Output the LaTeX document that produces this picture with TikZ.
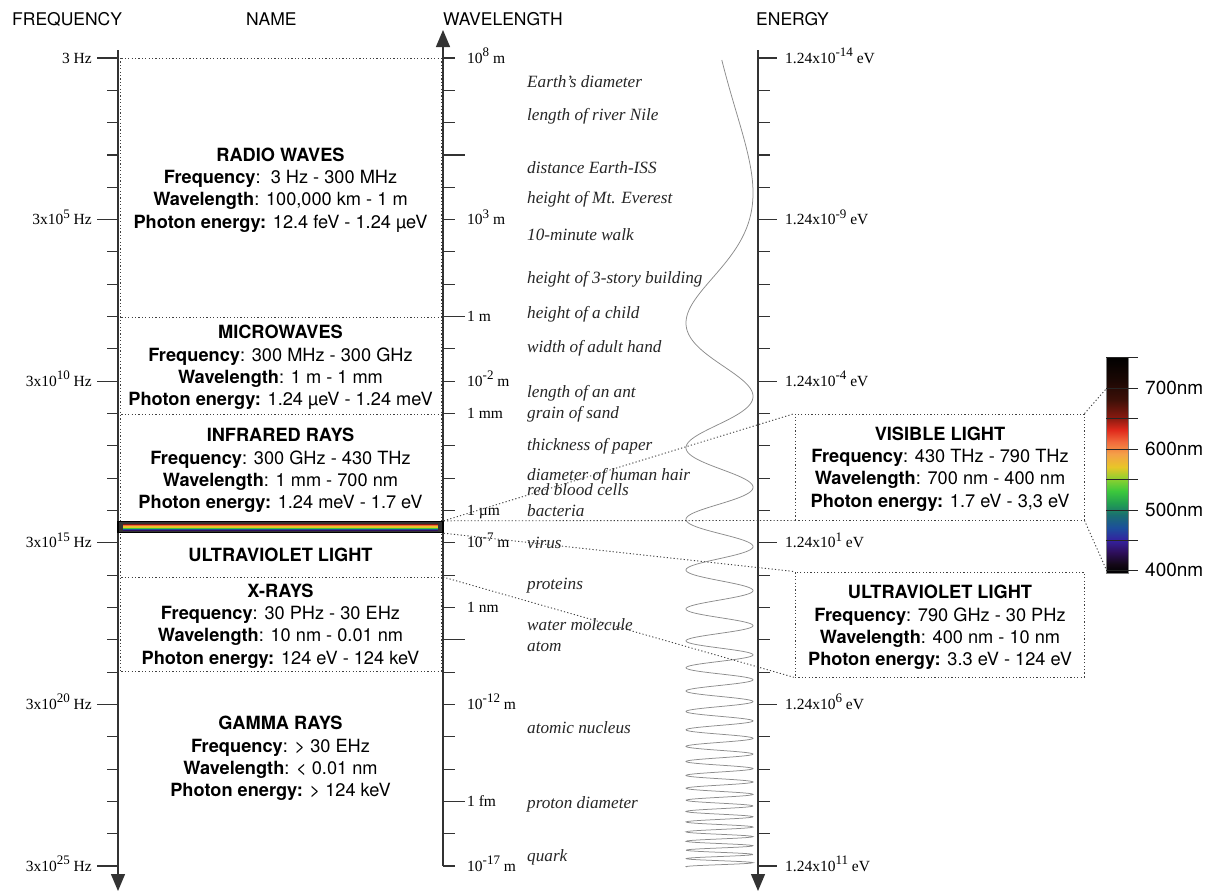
\documentclass[tikz,border=0pt]{standalone}
\usepackage{fontspec}
\setmainfont{Liberation Serif}
\newfontfamily\hv{TeX Gyre Heros}
\usetikzlibrary{arrows.meta}
\definecolor{axc}{HTML}{333333}
\definecolor{sA}{HTML}{140818}
\definecolor{sB}{HTML}{2E0F5C}
\definecolor{sC}{HTML}{3422A0}
\definecolor{sD}{HTML}{1C4E9C}
\definecolor{sE}{HTML}{1A6E72}
\definecolor{sF}{HTML}{22A050}
\definecolor{sG}{HTML}{3CC83C}
\definecolor{sH}{HTML}{8CD030}
\definecolor{sI}{HTML}{E8C628}
\definecolor{sJ}{HTML}{F4A048}
\definecolor{sK}{HTML}{F26A3C}
\definecolor{sL}{HTML}{E02A1C}
\definecolor{sM}{HTML}{8A1A10}
\definecolor{sN}{HTML}{3E1008}
\definecolor{sO}{HTML}{1C0804}
\pgfdeclareverticalshading{spec}{100bp}{color(0bp)=(black); color(25bp)=(black); color(27.08bp)=(sA); color(29.86bp)=(sB); color(32.64bp)=(sC); color(35.42bp)=(sD); color(38.43bp)=(sE); color(41.2bp)=(sF); color(43.98bp)=(sG); color(46.76bp)=(sH); color(49.54bp)=(sI); color(52.55bp)=(sJ); color(55.32bp)=(sK); color(58.1bp)=(sL); color(60.88bp)=(sM); color(65.05bp)=(sN); color(69.44bp)=(sO); color(75bp)=(black); color(100bp)=(black)}
\newcommand\sups[1]{\raisebox{0.42em}{\fontsize{13}{13}\selectfont #1}}
\begin{document}
\begin{tikzpicture}[x=1pt,y=-1pt,
  axis/.style={line width=1.3pt, draw=axc},
  axtick/.style={line width=1.1pt, draw=axc},
  dots/.style={line width=0.9pt, dash pattern=on 1.2pt off 2.2pt, draw=black!75},
  hd/.style={font=\hv\fontsize{17.5}{20}\selectfont, anchor=base west, inner sep=0},
  info/.style={font=\hv\fontsize{18.2}{22.3}\selectfont, align=center, inner sep=0},
  flab/.style={font=\fontsize{15.5}{18}\selectfont, anchor=base east, inner sep=0},
  wlab/.style={font=\fontsize{15.5}{18}\selectfont, anchor=base west, inner sep=0},
  ex/.style={font=\fontsize{17.2}{19}\selectfont\itshape, anchor=base west, inner sep=0, text=black!85},
  cblab/.style={font=\hv\fontsize{19}{20}\selectfont, anchor=west, inner sep=0},
  tip/.style={-{Triangle[width=14pt,length=17pt]}}
]
\useasboundingbox (0,0) rectangle (1210,892);
\fill[white] (0,0) rectangle (1210,892);

% headers
\node[hd] (hfreq) at (12,25) {FREQUENCY};
\node[hd] (hname) at (246,25) {NAME};
\node[hd] (hwave) at (443,25) {WAVELENGTH};
\node[hd] (henergy) at (756,25) {ENERGY};

% dotted frame of name column
\draw[dots] (120.5,58) -- (120.5,671);
\draw[dots] (441,58) -- (441,671);
\foreach \yy in {58,317,414,577,671}{
  \draw[dots] (118,\yy) -- (443,\yy);
}

% axes
\draw[axis,tip] (118,50) -- (118,891);
\draw[axis,tip] (443,866) -- (443,30);
\draw[axis,tip] (758,50) -- (758,891);

% ticks
\foreach \k in {0,...,25}{
  \pgfmathsetmacro\yy{58+32.32*\k}
  \pgfmathtruncatemacro\m{mod(\k,5)}
  \ifnum\m=0
    \draw[axtick] (97,\yy) -- (118,\yy);
    \draw[axtick] (758,\yy) -- (777,\yy);
  \else
    \draw[axtick] (107,\yy) -- (118,\yy);
    \draw[axtick] (758,\yy) -- (770,\yy);
  \fi
  \draw[axtick] (443,\yy) -- (455,\yy);
}
\foreach \k in {3,8,18,23}{
  \pgfmathsetmacro\yy{58+32.32*\k}
  \draw[axtick] (443,\yy) -- (465,\yy);
}

% frequency labels
\foreach \k/\t in {0/{3 Hz},5/{3x10\sups{5} Hz},10/{3x10\sups{10} Hz},15/{3x10\sups{15} Hz},20/{3x10\sups{20} Hz},25/{3x10\sups{25} Hz}}{
  \pgfmathsetmacro\yy{58+32.32*\k+5}
  \node[flab] (f\k) at (92,\yy) {\t};
}
% wavelength labels
\foreach \k/\t in {0/{10\sups{8} m},5/{10\sups{3} m},8/{1 m},10/{10\sups{-2} m},11/{1 mm},14/{1 µm},15/{10\sups{-7} m},17/{1 nm},20/{10\sups{-12} m},23/{1 fm},25/{10\sups{-17} m}}{
  \pgfmathsetmacro\yy{58+32.32*\k+5}
  \node[wlab] (w\k) at (467,\yy) {\t};
}
% energy labels
\foreach \k/\t in {0/{-14},5/{-9},10/{-4},15/{1},20/{6},25/{11}}{
  \pgfmathsetmacro\yy{58+32.32*\k+5}
  \node[wlab] (e\k) at (785,\yy) {1.24x10\sups{\t} eV};
}

% examples
\node[ex] (x1) at (527,87) {Earth's diameter};
\node[ex] (x2) at (527,120) {length of river Nile};
\node[ex] (x3) at (527,173) {distance Earth-ISS};
\node[ex] (x4) at (527,203) {height of Mt. Everest};
\node[ex] (x5) at (527,240) {10-minute walk};
\node[ex] (x6) at (527,283) {height of 3-story building};
\node[ex] (x7) at (527,318) {height of a child};
\node[ex] (x8) at (527,352) {width of adult hand};
\node[ex] (x9) at (527,397) {length of an ant};
\node[ex] (x10) at (527,418) {grain of sand};
\node[ex] (x11) at (527,450) {thickness of paper};
\node[ex] (x12) at (527,480) {diameter of human hair};
\node[ex] (x13) at (527,495) {red blood cells};
\node[ex] (x14) at (527,516) {bacteria};
\node[ex] (x15) at (527,548) {virus};
\node[ex] (x16) at (527,589) {proteins};
\node[ex] (x17) at (527,630) {water molecule};
\node[ex] (x18) at (527,651) {atom};
\node[ex] (x19) at (527,733) {atomic nucleus};
\node[ex] (x20) at (527,808) {proton diameter};
\node[ex] (x21) at (527,861) {quark};

% wave
\draw[black!45, line width=0.75pt] plot[domain=60:867, samples=1700]
  ({719.5+33.5*sin(deg(0.918*exp(0.00578*\x)-1.23))}, \x);

% name column texts
\node[info] (radio) at (280.5,190) {\textbf{RADIO WAVES}\\\textbf{Frequency}:\ \ 3 Hz - 300 MHz\\\textbf{Wavelength}: 100,000 km - 1 m\\\textbf{Photon energy:} 12.4 feV - 1.24 µeV};
\node[info] (micro) at (280.5,367.5) {\textbf{MICROWAVES}\\\textbf{Frequency}: 300 MHz - 300 GHz\\\textbf{Wavelength}: 1 m - 1 mm\\\textbf{Photon energy:} 1.24 µeV - 1.24 meV};
\node[info] (ir) at (280.5,470.5) {\textbf{INFRARED RAYS}\\\textbf{Frequency}: 300 GHz - 430 THz\\\textbf{Wavelength}: 1 mm - 700 nm\\\textbf{Photon energy:} 1.24 meV - 1.7 eV};
\node[info] (uv) at (280.5,555) {\textbf{ULTRAVIOLET LIGHT}};
\node[info] (xr) at (280.5,626) {\textbf{X-RAYS}\\\textbf{Frequency}: 30 PHz - 30 EHz\\\textbf{Wavelength}: 10 nm - 0.01 nm\\\textbf{Photon energy:} 124 eV - 124 keV};
\node[info] (gamma) at (280.5,758.5) {\textbf{GAMMA RAYS}\\\textbf{Frequency}: > 30 EHz\\\textbf{Wavelength}: < 0.01 nm\\\textbf{Photon energy:} > 124 keV};

% visible band
\node[draw=black, line width=1.4pt, fill=black!80, minimum width=325pt, minimum height=11pt, inner sep=0] (band) at (280.5,527) {};
\fill[sM] (123,523.5) rectangle (438,525);
\fill[sK] (123,525) rectangle (438,526.3);
\fill[sI] (123,526.3) rectangle (438,527.6);
\fill[sG] (123,527.6) rectangle (438,528.9);
\fill[sD] (123,528.9) rectangle (438,530.3);
\fill[sB] (123,530.3) rectangle (438,531.2);
\coordinate (xrtop) at (443,577);

% side boxes
\node[draw=black!75, line width=0.9pt, dash pattern=on 1.2pt off 2.2pt, minimum width=289pt, minimum height=106pt, inner sep=0] (visbox) at (939.5,467) {};
\node[info] (vistext) at (940,469) {\textbf{VISIBLE LIGHT}\\\textbf{Frequency}: 430 THz - 790 THz\\\textbf{Wavelength}: 700 nm - 400 nm\\\textbf{Photon energy:} 1.7 eV - 3,3 eV};
\node[draw=black!75, line width=0.9pt, dash pattern=on 1.2pt off 2.2pt, minimum width=289pt, minimum height=105pt, inner sep=0] (uvbox) at (939.5,624.5) {};
\node[info] (uvtext) at (940,627.5) {\textbf{ULTRAVIOLET LIGHT}\\\textbf{Frequency}: 790 GHz - 30 PHz\\\textbf{Wavelength}: 400 nm - 10 nm\\\textbf{Photon energy:} 3.3 eV - 124 eV};

% colour bar
\node[shade, shading=spec, draw=black!50, line width=0.6pt, minimum width=22pt, minimum height=216pt, inner sep=0] (cbar) at (1117,465) {};
\foreach \yy in {357,388,418,449,479,510,540,570}{
  \draw[line width=1pt, black!85] (1106,\yy) -- (1138,\yy);
}
\coordinate (cb700) at (1106,389);
\coordinate (cb400) at (1106,569);
\node[cblab] (l700) at (1145,388) {700nm};
\node[cblab] (l600) at (1145,449) {600nm};
\node[cblab] (l500) at (1145,510) {500nm};
\node[cblab] (l400) at (1145,570) {400nm};

% dotted connectors
\draw[dots] (band.north east) -- (visbox.north west);
\draw[dots] (band.north east) -- (visbox.south west);
\draw[dots] (band.south east) -- (uvbox.north west);
\draw[dots] (xrtop) -- (uvbox.south west);
\draw[dots] (visbox.north east) -- (cb700);
\draw[dots] (visbox.south east) -- (cb400);
\end{tikzpicture}
\end{document}
